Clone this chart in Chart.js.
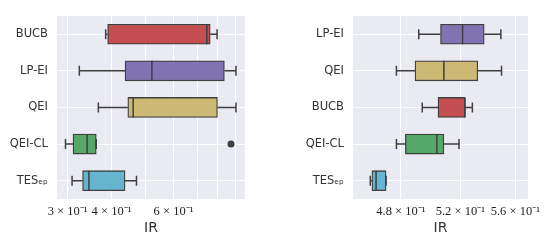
<!DOCTYPE html>
<html>
<head>
<meta charset="utf-8">
<script src="https://cdn.jsdelivr.net/npm/chart.js@4.4.1/dist/chart.umd.min.js"></script>
<style>
  body { margin: 0; background: #fff; }
  #wrap { position: relative; width: 546px; height: 240px; }
  canvas { position: absolute; top: 0; }
</style>
</head>
<body>
<div id="wrap">
  <canvas id="left" width="273" height="240" style="left:0"></canvas>
  <canvas id="right" width="273" height="240" style="left:273px"></canvas>
</div>
<script>
// left panel
var leftCats = ['BUCB', 'LP-EI', 'QEI', 'QEI-CL', 'TESₑₚ'];
var leftLow  = [0.385, 0.324, 0.367, 0.296, 0.309];
var leftQ1   = [0.390, 0.437, 0.445, 0.311, 0.331];
var leftMed  = [0.746, 0.521, 0.461, 0.341, 0.345];
var leftQ3   = [0.763, 0.837, 0.800, 0.362, 0.437];
var leftHigh = [0.798, 0.903, 0.903, 0.362, 0.471];
var leftOut  = [[], [], [], [0.874], []];
var leftTicks = [0.3, 0.4, 0.5, 0.6, 0.7, 0.8, 0.9];
var leftLabels = { 0.3: '3 × 10⁻¹', 0.4: '4 × 10⁻¹', 0.6: '6 × 10⁻¹' };

// right panel
var rightCats = ['LP-EI', 'QEI', 'BUCB', 'QEI-CL', 'TESₑₚ'];
var rightLow  = [0.4917, 0.4771, 0.4940, 0.4771, 0.4606];
var rightQ1   = [0.5063, 0.4892, 0.5046, 0.4829, 0.4616];
var rightMed  = [0.5216, 0.5086, 0.5233, 0.5038, 0.4642];
var rightQ3   = [0.5370, 0.5324, 0.5233, 0.5086, 0.4705];
var rightHigh = [0.5492, 0.5497, 0.5285, 0.5191, 0.4705];
var rightOut  = [[], [], [], [], []];
var rightTicks = [0.48, 0.52, 0.56];
var rightLabels = { 0.48: '4.8 × 10⁻¹', 0.52: '5.2 × 10⁻¹', 0.56: '5.6 × 10⁻¹' };

var colores = {
    'BUCB': '#C44E52',
    'LP-EI': '#8172B2',
    'QEI': '#CCB974',
    'QEI-CL': '#55A868',
    'TESₑₚ': '#64B5CD'
};
var edge = '#3f3f3f';

// fondo gris + bigotes, medianas y atipicos
var boxExtras = {
    id: 'boxExtras',
    beforeDraw: function(chart) {
        var a = chart.chartArea, ctx = chart.ctx;
        ctx.save();
        ctx.fillStyle = '#EAEAF2';
        ctx.fillRect(a.left, a.top, a.right - a.left, a.bottom - a.top);
        ctx.restore();
    },
    afterDatasetsDraw: function(chart, args, o) {
        var ctx = chart.ctx, sx = chart.scales.x, sy = chart.scales.y;
        ctx.save();
        ctx.strokeStyle = edge;
        ctx.lineWidth = 1.5;
        for (var i = 0; i < o.med.length; i++) {
            var yc = sy.getPixelForValue(i);
            var xl = sx.getPixelForValue(o.low[i]);
            var x1 = sx.getPixelForValue(o.q1[i]);
            var x3 = sx.getPixelForValue(o.q3[i]);
            var xh = sx.getPixelForValue(o.high[i]);
            var xm = sx.getPixelForValue(o.med[i]);
            ctx.beginPath();
            ctx.moveTo(xl, yc); ctx.lineTo(x1, yc);
            ctx.moveTo(x3, yc); ctx.lineTo(xh, yc);
            ctx.moveTo(xl, yc - 5); ctx.lineTo(xl, yc + 5);
            ctx.moveTo(xh, yc - 5); ctx.lineTo(xh, yc + 5);
            ctx.moveTo(xm, yc - 10); ctx.lineTo(xm, yc + 10);
            ctx.stroke();
            o.out[i].forEach(function(v) {
                ctx.beginPath();
                ctx.fillStyle = edge;
                ctx.arc(sx.getPixelForValue(v), yc, 3.5, 0, Math.PI * 2);
                ctx.fill();
            });
        }
        ctx.restore();
    }
};

function exibirCaixas(id, cats, low, q1, med, q3, high, out, min, max, ticks, labels, yWidth, padRight) {
    var datos = cats.map(function(c, i) { return [q1[i], q3[i]]; });
    return new Chart(document.getElementById(id), {
        type: 'bar',
        data: {
            labels: cats,
            datasets: [{
                data: datos,
                backgroundColor: cats.map(function(c) { return colores[c]; }),
                borderColor: edge,
                borderWidth: 1.3,
                borderSkipped: false,
                barThickness: 20
            }]
        },
        options: {
            indexAxis: 'y',
            responsive: false,
            animation: false,
            devicePixelRatio: 1,
            layout: { autoPadding: false, padding: { top: 3, right: padRight, left: 0, bottom: 0 } },
            plugins: {
                legend: { display: false },
                tooltip: { enabled: false },
                boxExtras: { low: low, q1: q1, med: med, q3: q3, high: high, out: out }
            },
            scales: {
                x: {
                    type: 'logarithmic',
                    min: min,
                    max: max,
                    afterBuildTicks: function(s) {
                        s.ticks = ticks.map(function(v) { return { value: v }; });
                    },
                    afterFit: function(s) { s.height = 41; },
                    grid: { color: '#ffffff', lineWidth: 1, drawTicks: false },
                    border: { display: false },
                    ticks: {
                        autoSkip: false,
                        maxRotation: 0,
                        padding: 5,
                        color: '#222',
                        font: { family: 'Liberation Serif', size: 12.5 },
                        callback: function(v) { return labels[v] || ''; }
                    },
                    title: {
                        display: true,
                        text: 'IR',
                        color: '#333',
                        font: { family: 'DejaVu Sans', size: 14 },
                        padding: { top: 0, bottom: 3 }
                    }
                },
                y: {
                    afterFit: function(s) { s.width = yWidth; },
                    grid: { color: '#ffffff', lineWidth: 1, drawTicks: false, offset: false },
                    border: { display: false },
                    ticks: {
                        padding: 9,
                        color: '#333',
                        font: { family: 'DejaVu Sans', size: 11.5 }
                    }
                }
            }
        },
        plugins: [boxExtras]
    });
}

exibirCaixas('left', leftCats, leftLow, leftQ1, leftMed, leftQ3, leftHigh, leftOut,
    0.281, 0.958, leftTicks, leftLabels, 57, 28);
exibirCaixas('right', rightCats, rightLow, rightQ1, rightMed, rightQ3, rightHigh, rightOut,
    0.4544, 0.5696, rightTicks, rightLabels, 80, 15);
</script>
</body>
</html>
